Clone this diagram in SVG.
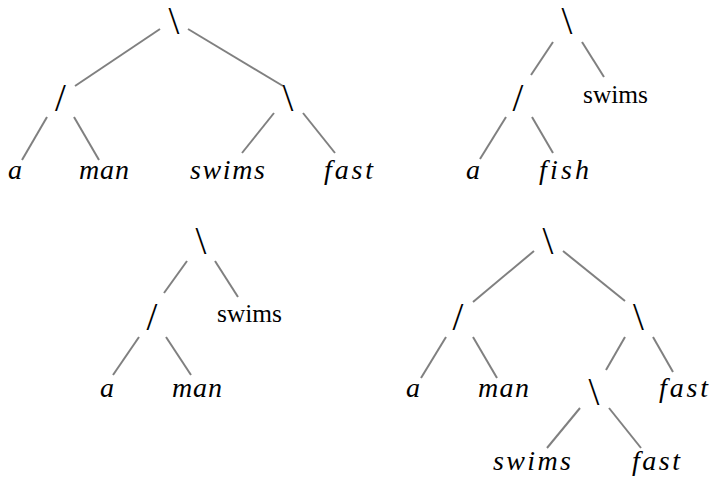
<svg xmlns="http://www.w3.org/2000/svg" width="712" height="483" viewBox="0 0 712 483">
  <style>
    .op { font-family: "Liberation Serif", "Times New Roman", serif; font-size: 39px; fill: #000; text-anchor: middle; }
    .mi { font-family: "Liberation Serif", "Times New Roman", serif; font-style: italic; font-size: 28px; fill: #000; }
    .rm { font-family: "Liberation Serif", "Times New Roman", serif; font-size: 25px; fill: #000; }
    .edges line { stroke: #808080; stroke-width: 2; stroke-linecap: butt; }
  </style>
  <rect width="712" height="483" fill="#fff"/>

  <!-- connectors -->
  <g class="edges" id="edges">
    <!-- tree 1 -->
    <line x1="160" y1="29" x2="75" y2="86"/>
    <line x1="188" y1="29" x2="283" y2="86"/>
    <line x1="47" y1="117" x2="22" y2="160"/>
    <line x1="74" y1="117" x2="99" y2="160"/>
    <line x1="274" y1="113" x2="242" y2="153"/>
    <line x1="303" y1="113" x2="335" y2="153"/>
    <!-- tree 2 -->
    <line x1="553" y1="42" x2="531" y2="75"/>
    <line x1="582" y1="42" x2="604" y2="77"/>
    <line x1="506" y1="117" x2="480" y2="159"/>
    <line x1="532" y1="117" x2="553" y2="153"/>
    <!-- tree 3 -->
    <line x1="187" y1="261" x2="164" y2="293"/>
    <line x1="215" y1="261" x2="238" y2="297"/>
    <line x1="139" y1="337" x2="113" y2="375"/>
    <line x1="166" y1="337" x2="191" y2="375"/>
    <!-- tree 4 -->
    <line x1="534" y1="251" x2="473" y2="302"/>
    <line x1="563" y1="251" x2="625" y2="301"/>
    <line x1="446" y1="337" x2="421" y2="378"/>
    <line x1="473" y1="337" x2="497" y2="378"/>
    <line x1="625" y1="337" x2="606" y2="370"/>
    <line x1="653" y1="337" x2="673" y2="372"/>
    <line x1="580" y1="408" x2="547" y2="448"/>
    <line x1="609" y1="408" x2="641" y2="448"/>
  </g>

  <!-- tree 1 -->
  <g id="t1-root"><text class="op" x="174" y="34">\</text></g>
  <g id="t1-left"><text class="op" x="60.5" y="111">/</text></g>
  <g id="t1-right"><text class="op" x="288" y="111">\</text></g>
  <g id="t1-a"><text class="mi" x="8" y="179">a</text></g>
  <g id="t1-man"><text class="mi" x="79" y="179" textLength="50" lengthAdjust="spacing">man</text></g>
  <g id="t1-swims"><text class="mi" x="190" y="179" textLength="75" lengthAdjust="spacing">swims</text></g>
  <g id="t1-fast"><text class="mi" x="324" y="179" textLength="49" lengthAdjust="spacing">fast</text></g>

  <!-- tree 2 -->
  <g id="t2-root"><text class="op" x="567" y="34">\</text></g>
  <g id="t2-left"><text class="op" x="518" y="111">/</text></g>
  <g id="t2-swims"><text class="rm" x="583" y="103" textLength="65" lengthAdjust="spacingAndGlyphs">swims</text></g>
  <g id="t2-a"><text class="mi" x="466" y="179">a</text></g>
  <g id="t2-fish"><text class="mi" x="539" y="179" textLength="50" lengthAdjust="spacing">fish</text></g>

  <!-- tree 3 -->
  <g id="t3-root"><text class="op" x="201" y="254">\</text></g>
  <g id="t3-left"><text class="op" x="152" y="330">/</text></g>
  <g id="t3-swims"><text class="rm" x="217" y="322" textLength="65" lengthAdjust="spacingAndGlyphs">swims</text></g>
  <g id="t3-a"><text class="mi" x="100" y="397">a</text></g>
  <g id="t3-man"><text class="mi" x="172" y="397" textLength="50" lengthAdjust="spacing">man</text></g>

  <!-- tree 4 -->
  <g id="t4-root"><text class="op" x="548" y="254">\</text></g>
  <g id="t4-left"><text class="op" x="458" y="330">/</text></g>
  <g id="t4-right"><text class="op" x="638.5" y="330">\</text></g>
  <g id="t4-a"><text class="mi" x="406" y="397">a</text></g>
  <g id="t4-man"><text class="mi" x="478" y="397" textLength="51" lengthAdjust="spacing">man</text></g>
  <g id="t4-inner"><text class="op" x="594" y="405">\</text></g>
  <g id="t4-fast"><text class="mi" x="659" y="397" textLength="49" lengthAdjust="spacing">fast</text></g>
  <g id="t4-swims"><text class="mi" x="493" y="470" textLength="78" lengthAdjust="spacing">swims</text></g>
  <g id="t4-fast2"><text class="mi" x="632" y="470" textLength="48" lengthAdjust="spacing">fast</text></g>
</svg>
